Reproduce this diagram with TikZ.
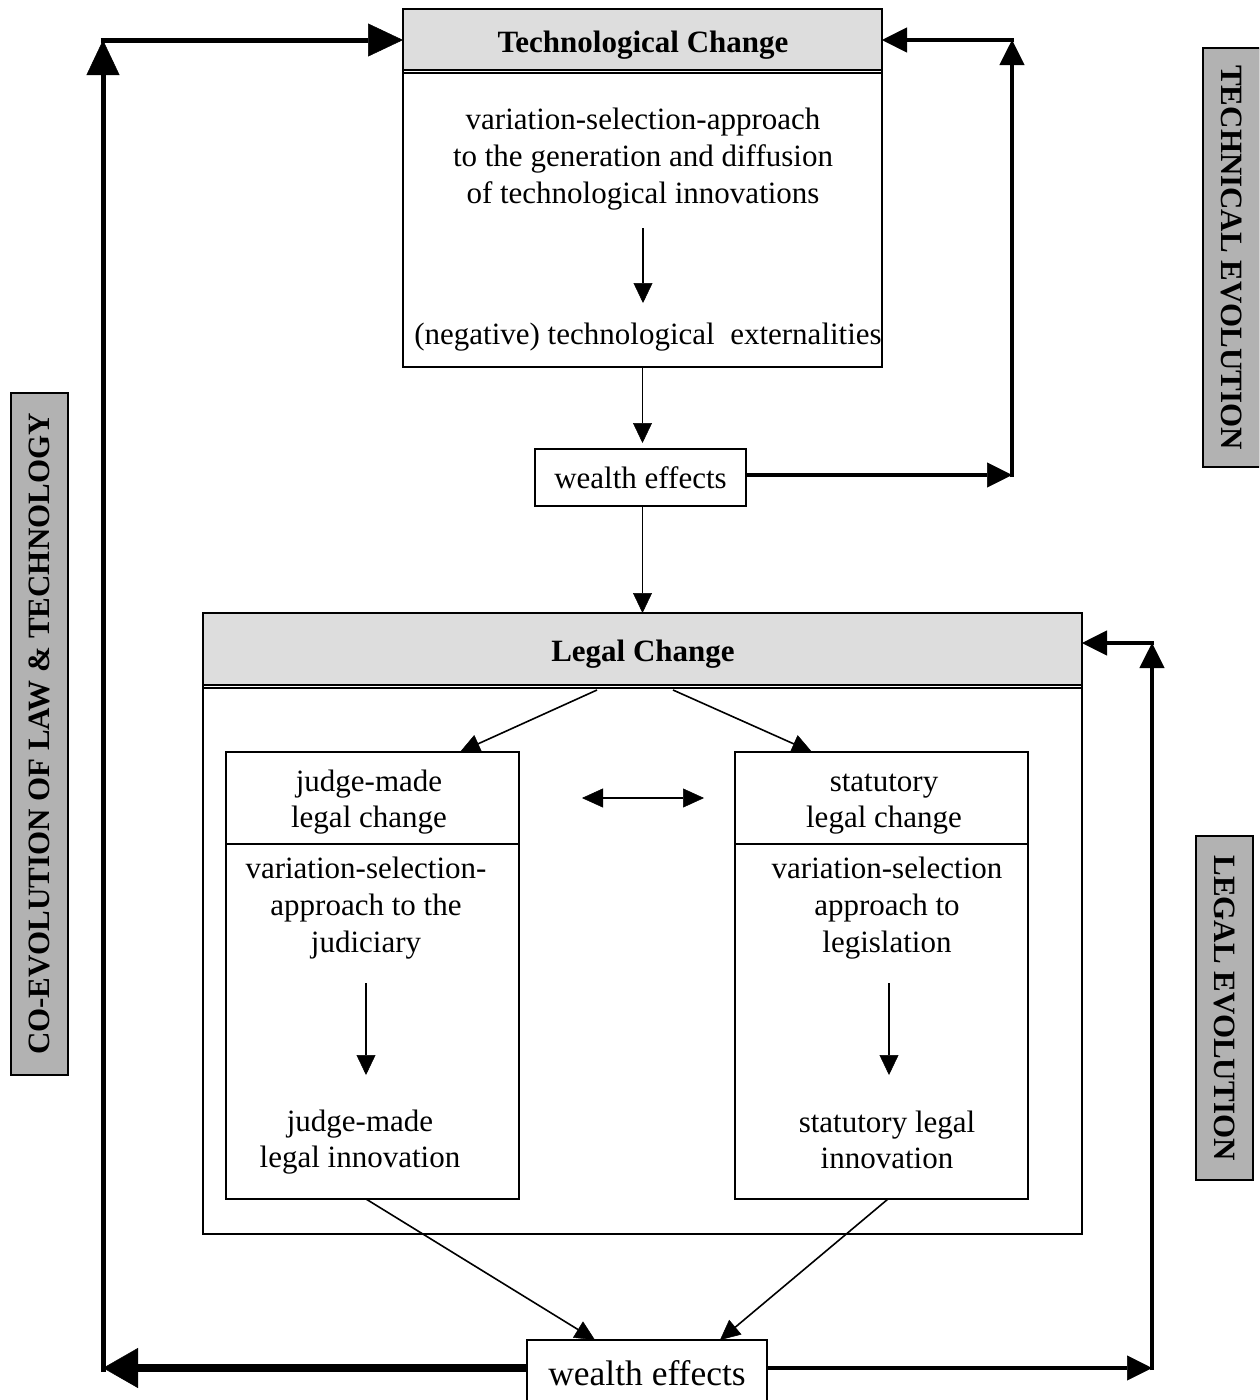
\documentclass[tikz,border=0pt]{standalone}
\usepackage{fontspec}
\setmainfont{Liberation Serif}
\usetikzlibrary{arrows.meta,calc}
\definecolor{headgray}{RGB}{221,221,221}
\definecolor{sidegray}{RGB}{178,178,178}
\begin{document}
\begin{tikzpicture}[x=1pt,y=-1pt,
  txt/.style={font=\fontsize{31}{36.6}\selectfont, align=center, inner sep=0pt},
  title/.style={font=\fontsize{31}{36.6}\selectfont\bfseries, inner sep=0pt},
  frame/.style={draw, line width=1.5pt, inner sep=0pt, outer sep=0pt, fill=white},
  headbox/.style={draw, line width=1.5pt, fill=headgray, inner sep=0pt, outer sep=0pt},
  sidebox/.style={draw, line width=1.2pt, fill=sidegray, inner sep=0pt, outer sep=0pt, font=\fontsize{31}{36.6}\selectfont\bfseries, minimum height=57pt},
  thinarr/.style={line width=1.6pt, -{Triangle[length=20pt,width=19pt,line width=0.5pt]}},
  dblarr/.style={line width=1.6pt, {Triangle[length=21pt,width=19pt,line width=0.5pt]}-{Triangle[length=21pt,width=19pt,line width=0.5pt]}},
  thickarr/.style={line width=4.5pt, -{Triangle[length=25pt,width=25pt,line width=0.5pt]}},
  heavyarr/.style={line width=5pt, -{Triangle[length=35pt,width=33pt,line width=0.5pt]}},
  heaviest/.style={line width=8.5pt, -{Triangle[length=35pt,width=40pt,line width=0.5pt]}},
]
\useasboundingbox (0,0) rectangle (1259,1400);
\clip (0,0) rectangle (1259,1400);
\fill[white] (0,0) rectangle (1259,1400);

% ---------- Technological change ----------
\node[frame, minimum width=479pt, minimum height=358pt] (tech) at (642.5,188) {};
\node[headbox, minimum width=479pt, minimum height=61pt] (techhead) at (642.5,39.5) {};
\node[title] (techtitle) at (643,45) {Technological Change};
\draw[line width=1.3pt] ($(techhead.south west)+(0,3)$) -- ($(techhead.south east)+(0,3)$);
\node[txt] (tvs) at (643,159) {variation-selection-approach\\to the generation and diffusion\\of technological innovations};
\node[txt] (tneg) at (648,337) {(negative) technological\ \ externalities};
\coordinate (ta1) at (643,228);
\coordinate (ta2) at (643,303);
\draw[thinarr] (ta1) -- (ta2);

% ---------- wealth effects (upper) ----------
\node[frame, txt, minimum width=211pt, minimum height=57pt] (we1) at (640.5,477.5) {wealth effects};
\draw[thinarr, shorten >=6pt] (tech.south) -- (tech.south |- we1.north);

% ---------- Legal change ----------
\node[frame, fill=none, minimum width=879pt, minimum height=621pt] (legal) at (642.5,923.5) {};
\node[headbox, minimum width=879pt, minimum height=72pt] (leghead) at (642.5,649) {};
\node[title] (legtitle) at (643,654) {Legal Change};
\draw[line width=1.3pt] ($(leghead.south west)+(0,3)$) -- ($(leghead.south east)+(0,3)$);
\draw[thinarr] (we1.south -| tech.south) -- (tech.south |- legal.north);

\node[frame, minimum width=293pt, minimum height=447pt] (judge) at (372.5,975.5) {};
\node[frame, minimum width=293pt, minimum height=447pt] (stat) at (881.5,975.5) {};
\draw[line width=1.5pt] (judge.west |- 0,844) -- (judge.east |- 0,844);
\draw[line width=1.5pt] (stat.west |- 0,844) -- (stat.east |- 0,844);

\node[txt] (jm) at (369,802) {judge-made\\legal change};
\node[txt] (jvs) at (366,908) {variation-selection-\\approach to the\\judiciary};
\node[txt] (jin) at (360,1142) {judge-made\\legal innovation};
\node[txt] (sm) at (884,804) {statutory\\legal change};
\node[txt] (svs) at (887,908) {variation-selection\\approach to\\legislation};
\node[txt] (sin) at (887,1140) {statutory legal\\innovation};

\coordinate (lj1) at (597,690);
\coordinate (lj2) at (460,752);
\coordinate (ls1) at (673,690);
\coordinate (ls2) at (812,752);
\draw[thinarr] (lj1) -- (lj2);
\draw[thinarr] (ls1) -- (ls2);

\coordinate (d1) at (582,798);
\coordinate (d2) at (704,798);
\draw[dblarr] (d1) -- (d2);

\coordinate (ja1) at (366,983);
\coordinate (ja2) at (366,1075);
\coordinate (sa1) at (889,983);
\coordinate (sa2) at (889,1075);
\draw[thinarr] (ja1) -- (ja2);
\draw[thinarr] (sa1) -- (sa2);

% ---------- wealth effects (lower) ----------
\node[frame, font=\fontsize{35.5}{40}\selectfont, inner sep=0pt, minimum width=240pt, minimum height=66pt] (we2) at (647,1373) {wealth effects};
\coordinate (jb) at (366,1199);
\coordinate (sb) at (888,1199);
\coordinate (wj) at (595,1340);
\coordinate (ws) at (720,1340);
\draw[thinarr] (jb) -- (wj);
\draw[thinarr] (sb) -- (ws);

% ---------- feedback loops ----------
\coordinate (l1) at (103,1368);
\coordinate (l2) at (103,40);
\draw[heaviest] (l1 -| we2.west) -- (l1);
\draw[heavyarr] (103,1372) -- (l2);
\draw[heavyarr] (100.5,40) -- (l2 -| techhead.west);

\coordinate (r1) at (1012,475);
\coordinate (r2) at (1012,40);
\draw[thickarr] (r1 -| we1.east) -- (r1);
\draw[thickarr] (1012,477) -- (r2);
\draw[thickarr] (1014,40) -- (r2 -| techhead.east);

\coordinate (s1) at (1152,1368);
\coordinate (s2) at (1152,643);
\draw[thickarr] (s1 -| we2.east) -- (s1);
\draw[thickarr] (1152,1370) -- (s2);
\draw[thickarr] (1154,643) -- (s2 -| leghead.east);

% ---------- side labels ----------
\node[sidebox, rotate=-90, minimum width=419pt] (techev) at (1231.5,257.5) {TECHNICAL EVOLUTION};
\node[sidebox, rotate=90, minimum width=682pt] (coev) at (39.5,734) {CO-EVOLUTION OF LAW \& TECHNOLOGY};
\node[sidebox, rotate=-90, minimum width=344pt] (legev) at (1224.5,1008) {LEGAL EVOLUTION};
\end{tikzpicture}
\end{document}
